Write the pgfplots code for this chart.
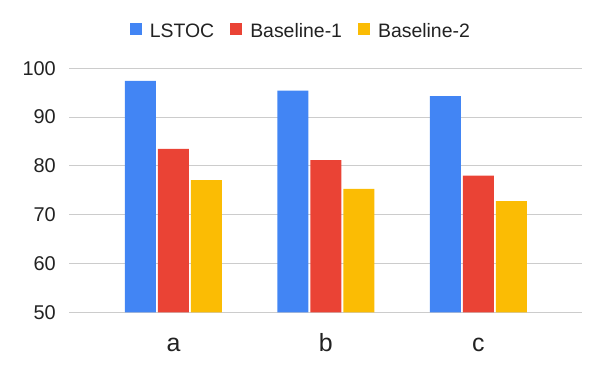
\documentclass[border=0pt]{standalone}
\usepackage{pgfplots}
\pgfplotsset{compat=1.18}
\usepackage{fontspec}
\setmainfont{Liberation Sans}
\definecolor{cA}{HTML}{4285F4}
\definecolor{cB}{HTML}{EA4335}
\definecolor{cC}{HTML}{FBBC04}
\definecolor{gridc}{HTML}{CCCCCC}
\definecolor{txt}{HTML}{222222}
\begin{document}
\begin{tikzpicture}[x=1bp,y=1bp]
\useasboundingbox (0,0) rectangle (600,371);
\begin{axis}[
  at={(69bp,58.7bp)}, anchor=south west,
  scale only axis, width=513bp, height=244bp,
  ybar=2bp, bar width=31bp,
  xmin=-0.685, xmax=2.68, ymin=50, ymax=100,
  ytick={50,60,...,100},
  xtick={0,1,2}, xticklabels={a,b,c},
  ymajorgrids, major grid style={gridc, line width=1bp},
  axis line style={draw=none},
  major tick style={draw=none},
  /pgf/number format/assume math mode=true,
  ticklabel style={text=txt},
  yticklabel style={font=\fontsize{20}{22}\selectfont, inner sep=0pt, xshift=-13bp},
  xticklabel style={font=\fontsize{25}{27}\selectfont, anchor=base, yshift=-35bp},
  legend style={at={(0.45,1.153)}, anchor=center, draw=none,
    legend columns=3, font=\fontsize{19.5}{21}\selectfont, text=txt,
    nodes={inner sep=0pt},
    /tikz/every odd column/.append style={column sep=8bp},
    /tikz/every even column/.append style={column sep=16bp}},
  legend image code/.code={\fill[#1] (0bp,-3.7bp) rectangle (12bp,8.3bp);},
]
\addplot[fill=cA, draw=none] coordinates {(0,97.4) (1,95.4) (2,94.3)};
\addplot[fill=cB, draw=none] coordinates {(0,83.5) (1,81.2) (2,78.0)};
\addplot[fill=cC, draw=none] coordinates {(0,77.1) (1,75.3) (2,72.8)};
\legend{LSTOC, Baseline-1, Baseline-2}
\end{axis}
\end{tikzpicture}
\end{document}
